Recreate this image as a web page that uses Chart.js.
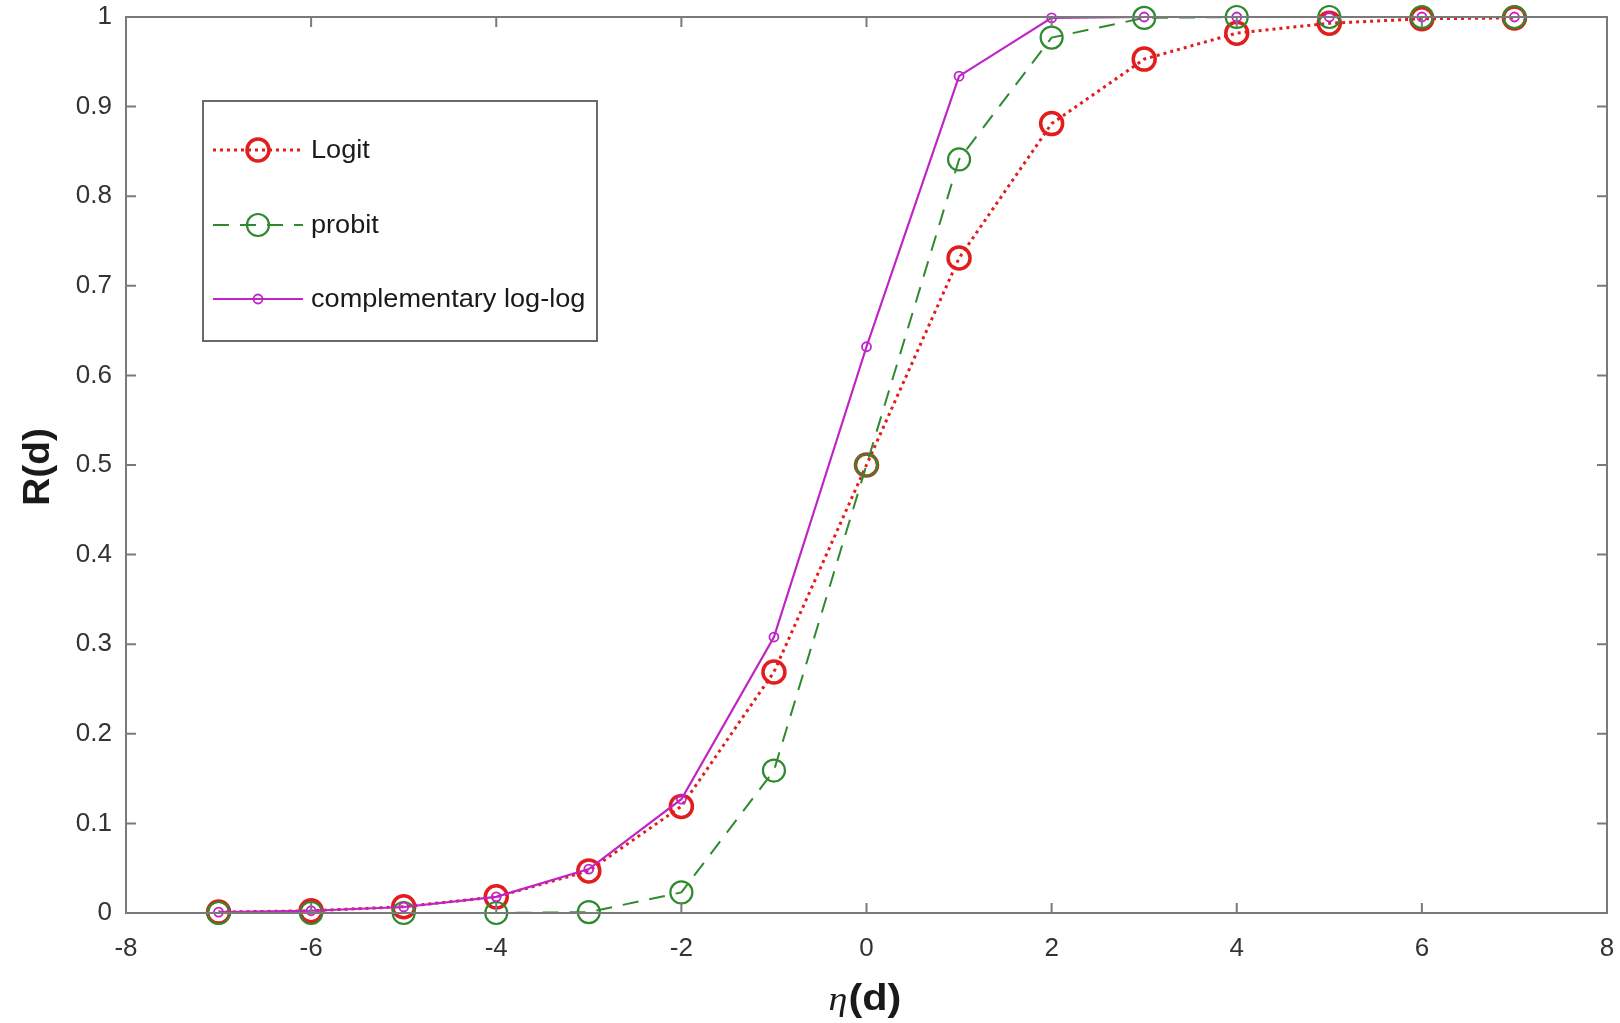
<!DOCTYPE html>
<html>
<head>
<meta charset="utf-8">
<script src="https://cdn.jsdelivr.net/npm/chart.js@4/dist/chart.umd.min.js"></script>
<style>
  html, body { margin: 0; padding: 0; background: #fff; }
  #wrap { width: 1620px; height: 1023px; }
</style>
</head>
<body>
<div id="wrap"><canvas id="chart" width="1620" height="1023"></canvas></div>
<script>
// values
const etaValues = [-7, -6, -5, -4, -3, -2, -1, 0, 1, 2, 3, 4, 5, 6, 7];
const logitValues = [0.001, 0.0025, 0.007, 0.018, 0.047, 0.119, 0.269, 0.5, 0.731, 0.881, 0.953, 0.982, 0.993, 0.998, 0.999];
const probitValues = [0, 0, 0, 0, 0.001, 0.023, 0.159, 0.5, 0.841, 0.977, 0.999, 1, 1, 1, 1];
const cloglogValues = [0.001, 0.0025, 0.0067, 0.018, 0.049, 0.127, 0.308, 0.632, 0.934, 0.999, 1, 1, 1, 1, 1];

const seriesLabels = ['Logit', 'probit', 'complementary log-log'];
const xTickValues = [-8, -6, -4, -2, 0, 2, 4, 6, 8];
const yTickValues = [0, 0.1, 0.2, 0.3, 0.4, 0.5, 0.6, 0.7, 0.8, 0.9, 1];

const RED = '#e21d1d';
const GREEN = '#2f8a2f';
const MAGENTA = '#bf24c6';
const AXIS = '#7a7a7a';
const TEXT = '#333333';

function toPoints(ys) {
    return etaValues.map((x, i) => ({ x: x, y: ys[i] }));
}

// the source image is a bit wide, so custom text gets a small horizontal stretch
function wideText(ctx, text, x, y, stretch) {
    ctx.save();
    ctx.translate(x, y);
    ctx.scale(stretch, 1);
    ctx.textAlign = 'left';
    ctx.fillText(text, 0, 0);
    ctx.restore();
}

// box, inner ticks, legend and axis titles, drawn like the matlab figure
const matlabLook = {
    id: 'matlabLook',
    afterDatasetsDraw(chart) {
        const ctx = chart.ctx;
        const a = chart.chartArea;
        const xs = chart.scales.x;
        const ys = chart.scales.y;
        const tick = 10;

        ctx.save();
        ctx.strokeStyle = AXIS;
        ctx.lineWidth = 2;
        ctx.beginPath();
        xTickValues.forEach(v => {
            const px = xs.getPixelForValue(v);
            ctx.moveTo(px, a.bottom); ctx.lineTo(px, a.bottom - tick);
            ctx.moveTo(px, a.top); ctx.lineTo(px, a.top + tick);
        });
        yTickValues.forEach(v => {
            const py = ys.getPixelForValue(v);
            ctx.moveTo(a.left, py); ctx.lineTo(a.left + tick, py);
            ctx.moveTo(a.right, py); ctx.lineTo(a.right - tick, py);
        });
        ctx.stroke();
        ctx.strokeRect(a.left, a.top, a.right - a.left, a.bottom - a.top);

        // legend
        const lx = 203, ly = 101, lw = 394, lh = 240;
        ctx.fillStyle = '#fff';
        ctx.fillRect(lx, ly, lw, lh);
        ctx.strokeStyle = '#6a6a6a';
        ctx.lineWidth = 2;
        ctx.strokeRect(lx, ly, lw, lh);
        const rows = [150, 225, 299];
        chart.data.datasets.forEach((ds, i) => {
            const y = rows[i];
            ctx.strokeStyle = ds.borderColor;
            ctx.lineWidth = ds.borderWidth;
            ctx.setLineDash(ds.borderDash || []);
            ctx.beginPath();
            ctx.moveTo(213, y); ctx.lineTo(303, y);
            ctx.stroke();
            ctx.setLineDash([]);
            ctx.lineWidth = ds.pointBorderWidth;
            ctx.strokeStyle = ds.pointBorderColor;
            ctx.beginPath();
            ctx.arc(258, y, ds.pointRadius, 0, Math.PI * 2);
            ctx.stroke();
            ctx.fillStyle = '#1a1a1a';
            ctx.font = '25px "Liberation Sans", Arial, sans-serif';
            ctx.textBaseline = 'middle';
            wideText(ctx, ds.label, 311, y + 1, 1.085);
        });

        // y title
        ctx.fillStyle = '#1a1a1a';
        ctx.save();
        ctx.translate(39, 467);
        ctx.rotate(-Math.PI / 2);
        ctx.scale(1.08, 1);
        ctx.font = 'bold 36px "Liberation Sans", Arial, sans-serif';
        ctx.textAlign = 'center';
        ctx.textBaseline = 'middle';
        ctx.fillText('R(d)', 0, 0);
        ctx.restore();

        // x title: italic eta + bold (d)
        const eta = 'η';
        const rest = '(d)';
        const etaFont = 'italic 34px "Liberation Serif", "DejaVu Serif", serif';
        const restFont = 'bold 37px "Liberation Sans", Arial, sans-serif';
        const st = 1.12;
        ctx.textBaseline = 'alphabetic';
        ctx.font = etaFont;
        const w1 = ctx.measureText(eta).width * st;
        ctx.font = restFont;
        const w2 = ctx.measureText(rest).width * st;
        const x0 = xs.getPixelForValue(0) - (w1 + w2) / 2 - 2;
        ctx.font = etaFont;
        wideText(ctx, eta, x0, 1010, st);
        ctx.font = restFont;
        wideText(ctx, rest, x0 + w1 + 1, 1010, st);
        ctx.restore();
    }
};

new Chart(document.getElementById('chart'), {
    type: 'scatter',
    data: {
        datasets: [
            {
                label: seriesLabels[0],
                data: toPoints(logitValues),
                showLine: true,
                borderColor: RED,
                borderWidth: 3,
                borderDash: [3, 4],
                pointRadius: 11,
                pointBorderWidth: 3.5,
                pointBorderColor: RED,
                pointBackgroundColor: 'rgba(0,0,0,0)',
                clip: false,
                order: 3
            },
            {
                label: seriesLabels[1],
                data: toPoints(probitValues),
                showLine: true,
                borderColor: GREEN,
                borderWidth: 2,
                borderDash: [16, 11],
                pointRadius: 11,
                pointBorderWidth: 2.2,
                pointBorderColor: GREEN,
                pointBackgroundColor: 'rgba(0,0,0,0)',
                clip: false,
                order: 2
            },
            {
                label: seriesLabels[2],
                data: toPoints(cloglogValues),
                showLine: true,
                borderColor: MAGENTA,
                borderWidth: 2.2,
                pointRadius: 4.5,
                pointBorderWidth: 1.8,
                pointBorderColor: MAGENTA,
                pointBackgroundColor: 'rgba(0,0,0,0)',
                clip: false,
                order: 1
            }
        ]
    },
    options: {
        responsive: false,
        animation: false,
        layout: { autoPadding: false, padding: { left: 0, right: 13, top: 17, bottom: 0 } },
        plugins: {
            legend: { display: false },
            tooltip: { enabled: false }
        },
        scales: {
            x: {
                type: 'linear',
                min: -8,
                max: 8,
                afterFit(scale) {
                    scale.height = 110;
                    scale.paddingLeft = 0;
                    scale.paddingRight = 0;
                },
                afterBuildTicks(scale) { scale.ticks = xTickValues.map(v => ({ value: v })); },
                grid: { display: false, drawTicks: false },
                border: { display: false },
                ticks: {
                    padding: 20,
                    color: TEXT,
                    font: { family: '"Liberation Sans", Arial, sans-serif', size: 26 }
                }
            },
            y: {
                type: 'linear',
                min: 0,
                max: 1,
                afterFit(scale) {
                    scale.width = 126;
                    scale.paddingTop = 0;
                    scale.paddingBottom = 0;
                },
                afterBuildTicks(scale) { scale.ticks = yTickValues.map(v => ({ value: v })); },
                grid: { display: false, drawTicks: false },
                border: { display: false },
                ticks: {
                    padding: 14,
                    color: TEXT,
                    font: { family: '"Liberation Sans", Arial, sans-serif', size: 26 },
                    callback: v => String(Math.round(v * 10) / 10)
                }
            }
        }
    },
    plugins: [matlabLook]
});
</script>
</body>
</html>
